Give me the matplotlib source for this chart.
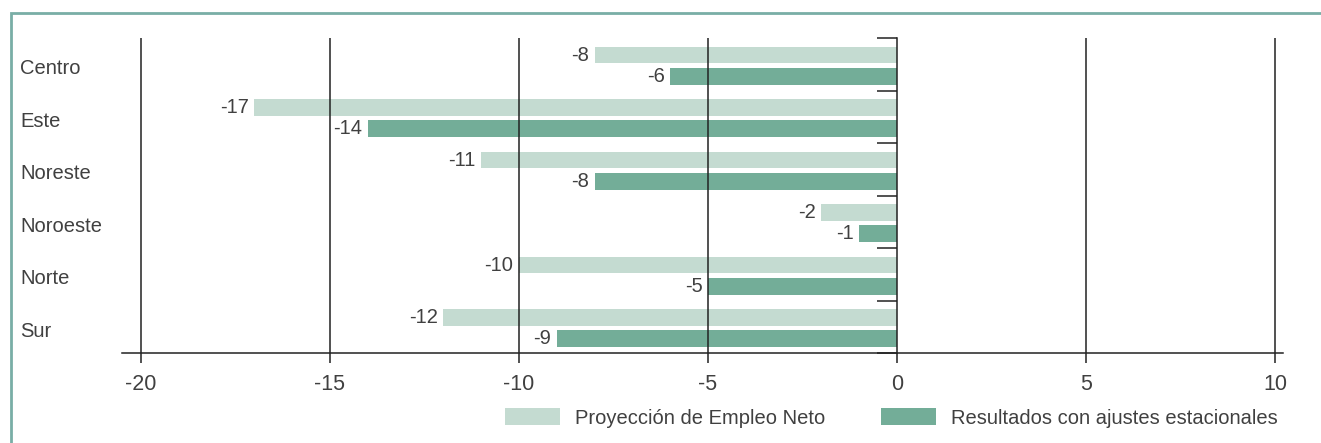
import matplotlib
matplotlib.use("Agg")
import matplotlib.pyplot as plt
import matplotlib.transforms as mtransforms
from matplotlib.lines import Line2D
from matplotlib.patches import Patch

plt.rcParams['font.family'] = ['Liberation Sans', 'DejaVu Sans']
plt.rcParams['axes.unicode_minus'] = False

categories = ["Centro", "Este", "Noreste", "Noroeste", "Norte", "Sur"]
proyeccion = [-8, -17, -11, -2, -10, -12]
ajustados = [-6, -14, -8, -1, -5, -9]
series_names = ["Proyección de Empleo Neto", "Resultados con ajustes estacionales"]
xticks = [-20, -15, -10, -5, 0, 5, 10]
xtick_labels = ["-20", "-15", "-10", "-5", "0", "5", "10"]

c_light = "#c4dbd1"
c_dark = "#73ad98"
c_text = "#404040"
c_line = "#222222"
c_border = "#79aea6"

FS = 14.5
W, H = 1321, 443
fig = plt.figure(figsize=(W / 100, H / 100), dpi=100)
ax = fig.add_axes([122 / W, 1 - 353 / H, (1283 - 122) / W, (353 - 38) / H])

n = len(categories)
pos = list(range(n))
bh = 0.32
pos_l = [p - 0.175 for p in pos]
pos_d = [p + 0.23 for p in pos]
ax.barh(pos_l, proyeccion, height=bh, color=c_light, zorder=1)
ax.barh(pos_d, ajustados, height=bh, color=c_dark, zorder=1)

for y, v in zip(pos_l, proyeccion):
    ax.annotate(str(v), (v, y), xytext=(-4, 0), textcoords="offset points",
                ha="right", va="center", fontsize=FS, color=c_text)
for y, v in zip(pos_d, ajustados):
    ax.annotate(str(v), (v, y), xytext=(-4, 0), textcoords="offset points",
                ha="right", va="center", fontsize=FS, color=c_text)

ax.set_xlim(-20.5, 10.21)
ax.set_ylim(n - 0.5, -0.5)

for t in xticks:
    if t != 0:
        ax.axvline(t, color=c_line, lw=1.1, zorder=3)

for s in ["top", "right"]:
    ax.spines[s].set_visible(False)
ax.spines["left"].set_position(("data", 0))
ax.spines["left"].set_color(c_line)
ax.spines["left"].set_linewidth(1.1)
ax.spines["left"].set_zorder(3)
ax.spines["bottom"].set_color(c_line)
ax.spines["bottom"].set_linewidth(1.1)

ax.set_yticks([p - 0.5 for p in pos] + [n - 0.5])
ax.set_yticklabels([])
ax.tick_params(axis="y", direction="out", length=14.4, width=1.1, color=c_line)

ax.set_xticks(xticks)
ax.set_xticklabels(xtick_labels)
ax.tick_params(axis="x", direction="out", length=7.2, width=1.1, color=c_line,
               labelsize=15.5, labelcolor=c_text, pad=8)

trans = mtransforms.blended_transform_factory(fig.transFigure, ax.transData)
for p, c in zip(pos, categories):
    ax.text(20 / W, p + 0.09, c, transform=trans, ha="left", va="center",
            fontsize=FS, color=c_text)

handles = [Patch(facecolor=c_light, edgecolor="none"), Patch(facecolor=c_dark, edgecolor="none")]
leg = fig.legend(handles, series_names, loc="center right", ncol=2,
                 bbox_to_anchor=(1278 / W, 1 - 418 / H), frameon=False,
                 fontsize=FS, handlelength=2.75, handleheight=0.85,
                 handletextpad=0.75, columnspacing=2.75, borderpad=0, borderaxespad=0)
for t in leg.get_texts():
    t.set_color(c_text)

bx = 10.5 / W
by = 1 - 12.5 / H
fig.add_artist(Line2D([bx, bx, 1.0], [0, by, by], transform=fig.transFigure,
                      color=c_border, lw=2.0, solid_joinstyle="miter"))

fig.savefig("out.png", dpi=100)
